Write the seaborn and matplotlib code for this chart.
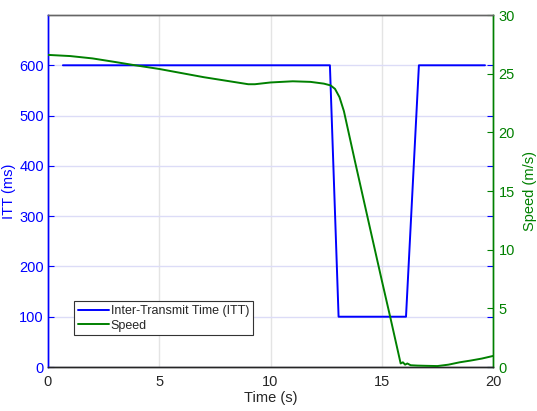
import matplotlib
matplotlib.use("Agg")
import matplotlib.pyplot as plt
import seaborn as sns
import pandas as pd

# ---- data ----
itt_time = [0.67, 12.67, 13.06, 16.09, 16.67, 19.64]
itt_ms = [600, 600, 100, 100, 600, 600]

speed_time = [0, 1, 2, 3, 3.8, 5, 6, 7, 8, 9, 9.3, 10, 11, 11.8, 12.4, 12.7,
              12.9, 13.1, 13.3, 13.8, 14.5, 15.0, 15.4, 15.85, 15.95, 16.05,
              16.15, 16.3, 16.6, 17.0, 17.5, 18.0, 18.5, 19.0, 19.5, 20.0]
speed_ms = [26.6, 26.5, 26.3, 26.0, 25.75, 25.4, 25.05, 24.7, 24.4, 24.1, 24.1,
            24.25, 24.35, 24.3, 24.15, 24.0, 23.7, 23.0, 21.8, 17.5, 11.6, 7.4,
            4.1, 0.3, 0.4, 0.2, 0.3, 0.15, 0.12, 0.1, 0.08, 0.2, 0.4, 0.55,
            0.72, 0.94]

x_ticks = [0, 5, 10, 15, 20]
left_ticks = [0, 100, 200, 300, 400, 500, 600]
right_ticks = [0, 5, 10, 15, 20, 25, 30]

sns.set_style("white")
plt.rcParams['font.family'] = ['Liberation Sans', 'DejaVu Sans']

BLUE = (0, 0, 1)
GREEN = (0, 0.5, 0)

fig = plt.figure(figsize=(5.37, 4.11), dpi=100)
ax1 = fig.add_axes([48 / 537, 44 / 411, 445 / 537, 352 / 411])
ax2 = ax1.twinx()

df_itt = pd.DataFrame({"t": itt_time, "v": itt_ms})
df_sp = pd.DataFrame({"t": speed_time, "v": speed_ms})

sns.lineplot(data=df_itt, x="t", y="v", ax=ax1, color=BLUE, lw=1.4,
             label="Inter-Transmit Time (ITT)", legend=False, zorder=3)
sns.lineplot(data=df_sp, x="t", y="v", ax=ax2, color=GREEN, lw=1.4,
             label="Speed", legend=False, zorder=3)

ax1.set_xlim(0, 20)
ax1.set_ylim(0, 700)
ax2.set_ylim(0, 30)
ax1.set_xticks(x_ticks)
ax1.set_yticks(left_ticks)
ax2.set_yticks(right_ticks)

ax1.set_axisbelow(True)
ax1.xaxis.grid(True, color='#e4e4e4', lw=1)
ax1.yaxis.grid(True, color='#dcdcf7', lw=1)

fs = 10.5
ax1.set_xlabel("Time (s)", fontsize=fs, color='#262626', labelpad=1)
ax1.set_ylabel("ITT (ms)", fontsize=fs, color=BLUE, labelpad=2)
ax2.set_ylabel("Speed (m/s)", fontsize=fs, color=GREEN, labelpad=6)

ax1.tick_params(axis='x', direction='in', length=4, colors='#262626',
                labelsize=fs, pad=6, top=False)
ax1.tick_params(axis='y', direction='in', length=4, colors=BLUE,
                labelsize=fs, pad=3, right=True)
ax2.tick_params(axis='y', direction='in', length=4, colors=GREEN,
                labelsize=fs, pad=4)

for a in (ax1, ax2):
    a.spines['top'].set_color('#666666')
    a.spines['bottom'].set_color('#262626')
    a.spines['left'].set_color(BLUE)
    a.spines['right'].set_color(GREEN)
    for s in a.spines.values():
        s.set_linewidth(1)

h1, l1 = ax1.get_legend_handles_labels()
h2, l2 = ax2.get_legend_handles_labels()
leg = ax2.legend(h1 + h2, l1 + l2, loc='lower left',
                 bbox_to_anchor=(0.058, 0.09), fontsize=9, frameon=True,
                 fancybox=False, edgecolor='#333333', framealpha=1,
                 handlelength=2.5, handletextpad=0.15, borderpad=0.3,
                 labelspacing=0.2, borderaxespad=0)
leg.get_frame().set_linewidth(0.8)

fig.savefig("out.png", dpi=100)
